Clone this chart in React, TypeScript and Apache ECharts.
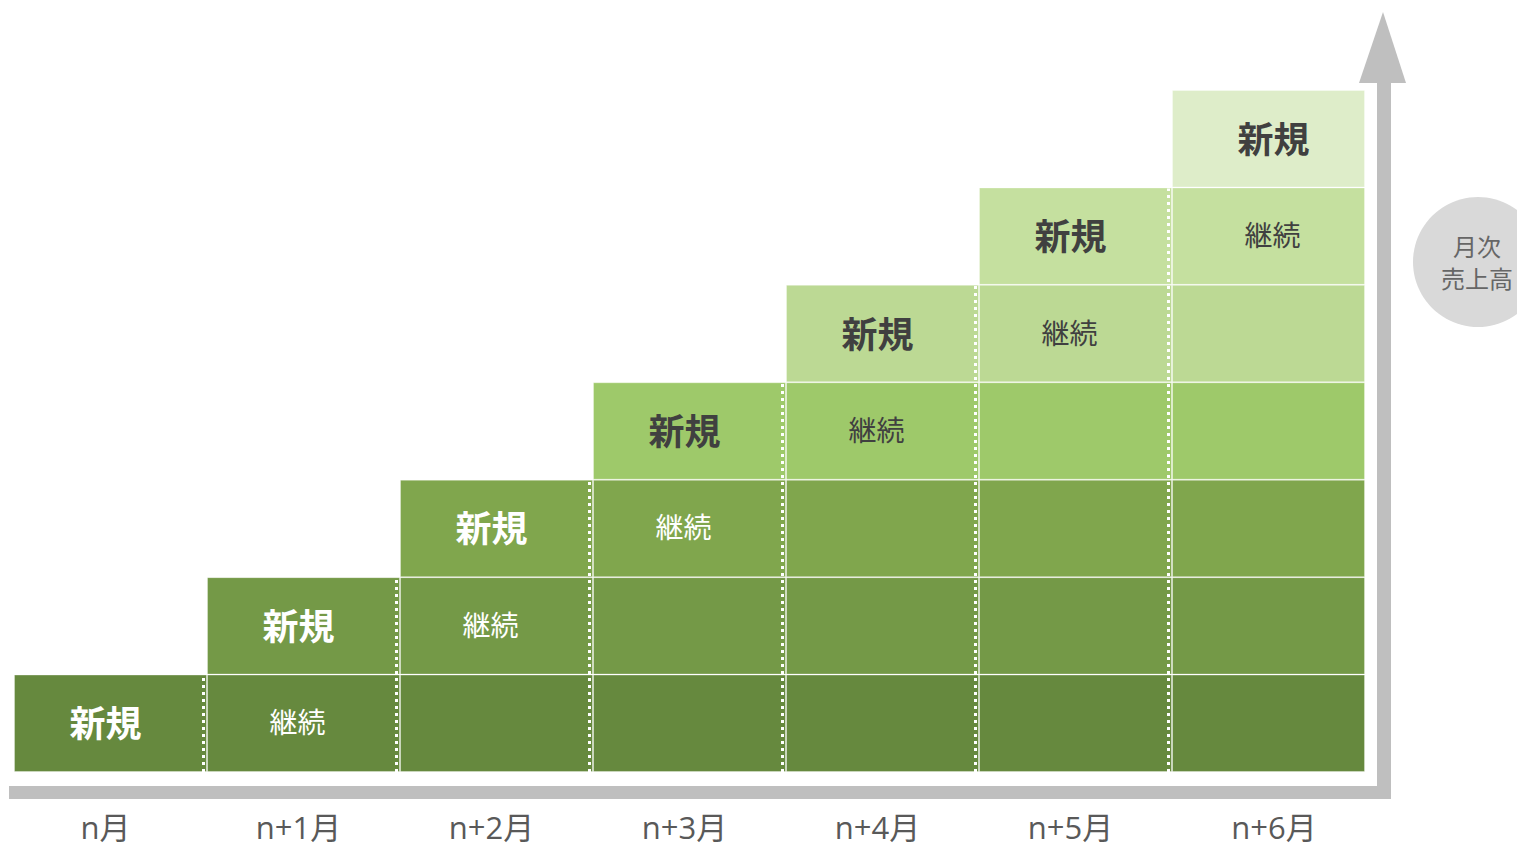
import React, { useEffect, useRef } from "react";
import * as echarts from "echarts";

const categories = ["n月", "n+1月", "n+2月", "n+3月", "n+4月", "n+5月", "n+6月"];
// cohort k starts at month k; each block has equal monthly revenue (1 unit)
const cohortStart = [0, 1, 2, 3, 4, 5, 6];
const blockValue = 1;
const cohortColors = ["#66893e", "#749947", "#80a64d", "#9ec96a", "#bcd994", "#c5e09f", "#deedc9"];
const newLabel = "新規";
const contLabel = "継続";
const circleLines = ["月次", "売上高"];

const FONT = "'Open Sans', 'Noto Sans CJK JP', sans-serif";
const JP = "'Noto Sans CJK JP', sans-serif";

export default function App() {
  const ref = useRef<HTMLDivElement>(null);
  useEffect(() => {
    if (!ref.current) return;
    const chart = echarts.init(ref.current, null, { renderer: "svg" });
    const last = categories.length - 1;

    const barSeries = cohortStart.map((start, k) => {
      const textColor = k < 3 ? "#ffffff" : "#404040";
      const data = categories.map((_, i) => {
        const dx = i === last ? 5 : -5;
        if (i < start) return "-";
        if (i === start)
          return {
            value: blockValue,
            label: { show: true, formatter: newLabel, fontSize: 36, fontWeight: "bold", color: textColor, fontFamily: JP, offset: [dx, -2] },
          };
        if (i === start + 1)
          return {
            value: blockValue,
            label: { show: true, formatter: contLabel, fontSize: 28, color: textColor, fontFamily: JP, offset: [dx - 1, -2] },
          };
        return blockValue;
      });
      return {
        type: "bar",
        name: "cohort" + k,
        stack: "total",
        barCategoryGap: "0%",
        itemStyle: { color: cohortColors[k], borderColor: "rgba(255,255,255,0.3)", borderWidth: 1 },
        label: { position: "inside" },
        emphasis: { disabled: true },
        data,
      };
    });

    // heights of each column (sum of active cohorts)
    const totals = categories.map((_, i) =>
      cohortStart.reduce((s, st) => s + (i >= st ? blockValue : 0), 0)
    );
    const dividerData = totals.slice(0, totals.length - 1).map((h, i) => [i, h]);

    const dividerSeries = {
      type: "custom",
      z: 5,
      silent: true,
      data: dividerData,
      renderItem: (params: any, api: any) => {
        const i = api.value(0);
        const h = api.value(1);
        const w = api.size([1, 0])[0];
        const bottom = api.coord([i, 0]);
        const top = api.coord([i, h]);
        const x = bottom[0] + w / 2 - 3.5;
        return {
          type: "line",
          shape: { x1: x, y1: bottom[1], x2: x, y2: top[1] + 1 },
          style: { stroke: "#ffffff", lineWidth: 3, lineDash: [3, 4] },
        };
      },
    };

    const axisData = categories.map((c, i) =>
      i === last ? { value: c, textStyle: { padding: [0, 0, 0, 11] } } : c
    );

    chart.setOption({
      animation: false,
      grid: { left: 14, right: 152, top: 90, bottom: 75 },
      xAxis: {
        type: "category",
        data: axisData,
        axisLine: { show: false },
        axisTick: { show: false },
        axisLabel: { margin: 39, fontSize: 31, lineHeight: 32, color: "#595959", fontFamily: FONT, padding: [0, 10, 0, 0] },
      },
      yAxis: { type: "value", min: 0, max: 7, show: false },
      series: [...barSeries, dividerSeries],
      graphic: [
        { type: "rect", shape: { x: 9, y: 786, width: 1382, height: 13 }, style: { fill: "#bfbfbf" }, silent: true },
        { type: "rect", shape: { x: 1377, y: 80, width: 14, height: 719 }, style: { fill: "#bfbfbf" }, silent: true },
        { type: "polygon", shape: { points: [[1359, 83], [1406, 83], [1383, 12]] }, style: { fill: "#bfbfbf" }, silent: true },
        { type: "circle", shape: { cx: 1478, cy: 262, r: 65 }, style: { fill: "#d9d9d9" }, silent: true },
        {
          type: "text",
          x: 1477,
          y: 245,
          silent: true,
          style: { text: circleLines[0], fontSize: 24, lineHeight: 25, fill: "#666666", align: "center", verticalAlign: "middle", fontFamily: JP },
        },
        {
          type: "text",
          x: 1477,
          y: 277,
          silent: true,
          style: { text: circleLines[1], fontSize: 24, lineHeight: 25, fill: "#666666", align: "center", verticalAlign: "middle", fontFamily: JP },
        },
      ],
    });
    return () => chart.dispose();
  }, []);
  return <div ref={ref} style={{ width: 1517, height: 847, position: "absolute", left: 0, top: 0 }} />;
}
